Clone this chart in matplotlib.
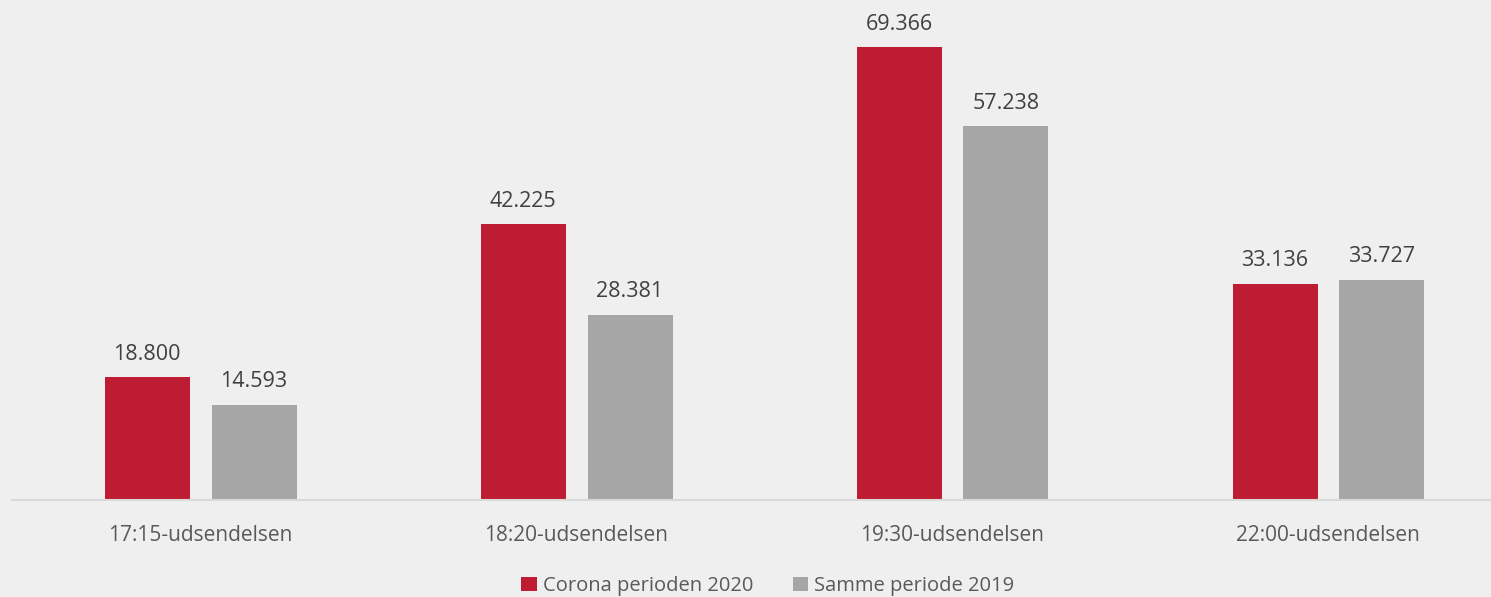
import matplotlib
matplotlib.use("Agg")
import matplotlib.pyplot as plt
import numpy as np

categories = ["17:15-udsendelsen", "18:20-udsendelsen", "19:30-udsendelsen", "22:00-udsendelsen"]
corona_2020 = [18.800, 42.225, 69.366, 33.136]
samme_2019 = [14.593, 28.381, 57.238, 33.727]
labels_2020 = ["18.800", "42.225", "69.366", "33.136"]
labels_2019 = ["14.593", "28.381", "57.238", "33.727"]
series_names = ["Corona perioden 2020", "Samme periode 2019"]

W, H = 1491, 597
bg = "#efefef"
red = "#be1c32"
gray = "#a6a6a6"
txt = "#595959"
plt.rcParams['font.family'] = ['Open Sans', 'DejaVu Sans']

fig = plt.figure(figsize=(W / 100, H / 100), dpi=100, facecolor=bg)
ax = fig.add_axes([12 / W, 1 - 500 / H, 1 - 12 / W, 500 / H])
ax.set_facecolor(bg)

group = 376.0
x = np.arange(len(categories))
bw = 85 / group
off = 53 / group
ax.set_xlim(-0.5, -0.5 + (W - 12) / group)
ymax = 500 / (453 / 69.366)
ax.set_ylim(0, ymax)

b1 = ax.bar(x - off, corona_2020, bw, color=red, label=series_names[0])
b2 = ax.bar(x + off + 1 / group, samme_2019, bw, color=gray, label=series_names[1])

for rects, labs in ((b1, labels_2020), (b2, labels_2019)):
    for r, l in zip(rects, labs):
        ax.annotate(l, (r.get_x() + r.get_width() / 2, r.get_height()),
                    xytext=(0, 9), textcoords="offset points", ha="center", va="bottom",
                    fontsize=15.5, color="#404040")

for s in ["top", "right", "left"]:
    ax.spines[s].set_visible(False)
ax.spines["bottom"].set_color("#d9d9d9")
ax.spines["bottom"].set_linewidth(1.5)
ax.set_yticks([])
ax.set_xticks(x)
ax.set_xticklabels(categories, fontsize=15, color=txt)
ax.tick_params(axis="x", length=0, pad=18)

leg = fig.legend(handles=[b1, b2], labels=series_names, loc="center",
                 bbox_to_anchor=(768 / W, 1 - 586 / H), ncol=2, frameon=False,
                 fontsize=14.5, handlelength=0.75, handleheight=0.75, handletextpad=0.3,
                 columnspacing=2.0, labelcolor=txt)

fig.savefig("out.png", dpi=100, facecolor=bg)
